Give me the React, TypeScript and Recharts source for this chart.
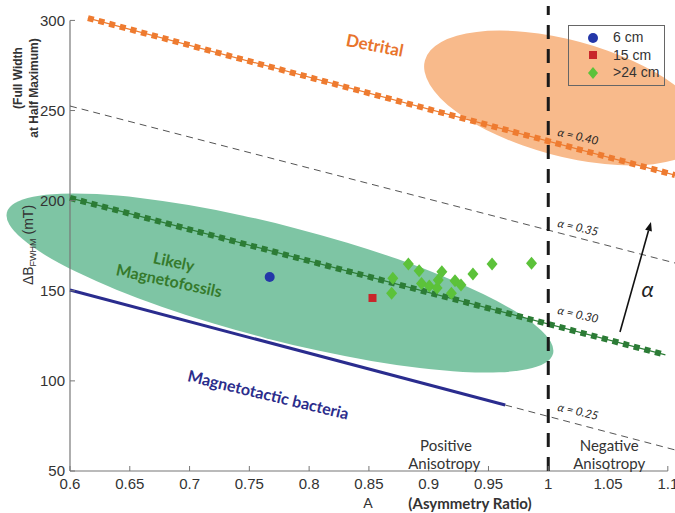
import React from "react";
import {
  ComposedChart,
  XAxis,
  YAxis,
  Line,
  Scatter,
  Legend,
  ReferenceLine,
  ReferenceArea,
  ReferenceDot,
  Label,
} from "recharts";

// axis ticks
const aTicks = [0.6, 0.65, 0.7, 0.75, 0.8, 0.85, 0.9, 0.95, 1, 1.05, 1.1];
const fwhmTicks = [50, 100, 150, 200, 250, 300];

// measured samples (A, ΔB_FWHM in mT)
const depthNames = ["6 cm", "15 cm", ">24 cm"];
const depth6cm = [{ a: 0.767, fwhm: 157.6 }];
const depth15cm = [{ a: 0.853, fwhm: 146.0 }];
const depth24cm = [
  { a: 0.869, fwhm: 148.6 },
  { a: 0.87, fwhm: 156.9 },
  { a: 0.883, fwhm: 164.9 },
  { a: 0.892, fwhm: 161.1 },
  { a: 0.894, fwhm: 154.1 },
  { a: 0.9005, fwhm: 152.6 },
  { a: 0.907, fwhm: 151.5 },
  { a: 0.908, fwhm: 156.0 },
  { a: 0.911, fwhm: 160.6 },
  { a: 0.919, fwhm: 148.6 },
  { a: 0.922, fwhm: 155.6 },
  { a: 0.927, fwhm: 153.2 },
  { a: 0.937, fwhm: 159.3 },
  { a: 0.953, fwhm: 164.8 },
  { a: 0.986, fwhm: 165.2 },
];

// constant-alpha guide lines
const alpha40 = [
  { a: 0.615, fwhm: 301.3 },
  { a: 1.106, fwhm: 214.2 },
];
const alpha35 = [
  { a: 0.6, fwhm: 252.5 },
  { a: 1.106, fwhm: 165.4 },
];
const alpha30 = [
  { a: 0.6, fwhm: 201.5 },
  { a: 1.098, fwhm: 114.4 },
];
const alpha25 = [
  { a: 0.6, fwhm: 150.4 },
  { a: 0.964, fwhm: 86.6 },
];
const alpha25Tail = [
  { a: 0.964, fwhm: 86.6 },
  { a: 1.106, fwhm: 61.7 },
];

// shaded zones: unrotated bounds in data units, tilt in degrees
const detritalZone = { a1: 0.8927, a2: 1.1353, f1: 224.8, f2: 289.1, tilt: 15 };
const fossilZone = { a1: 0.5397, a2: 1.0115, f1: 122.7, f2: 185.9, tilt: 14.5 };

// arrow showing increasing alpha
const alphaArrow = [
  { a: 1.06, fwhm: 127.1 },
  { a: 1.0859, fwhm: 188.2 },
];

const noteStyles: Record<string, any> = {
  detrital: { fill: "#E8742C", fontSize: 17, fontWeight: 700, rotate: 11 },
  fossil: { fill: "#357A2C", fontSize: 16, fontWeight: 700, rotate: 12 },
  bacteria: { fill: "#2B2D8C", fontSize: 16, fontWeight: 700, rotate: 13.5 },
  alpha: { fill: "#222", fontSize: 11.5, fontStyle: "italic", rotate: 13 },
  alphaBig: { fill: "#222", fontSize: 22, fontStyle: "italic", rotate: 0 },
  region: { fill: "#333", fontSize: 15, rotate: 0 },
};

const notes = [
  { a: 0.855, fwhm: 286.4, text: "Detrital", kind: "detrital" },
  { a: 0.687, fwhm: 166.5, text: "Likely", kind: "fossil" },
  { a: 0.683, fwhm: 156.0, text: "Magnetofossils", kind: "fossil" },
  { a: 0.766, fwhm: 92.7, text: "Magnetotactic bacteria", kind: "bacteria" },
  { a: 1.025, fwhm: 235.9, text: "α = 0.40", kind: "alpha" },
  { a: 1.025, fwhm: 185.4, text: "α = 0.35", kind: "alpha" },
  { a: 1.025, fwhm: 137.1, text: "α = 0.30", kind: "alpha" },
  { a: 1.025, fwhm: 83.3, text: "α = 0.25", kind: "alpha" },
  { a: 1.083, fwhm: 151.5, text: "α", kind: "alphaBig" },
  { a: 0.9145, fwhm: 64.4, text: "Positive", kind: "region" },
  { a: 0.913, fwhm: 54.4, text: "Anisotropy", kind: "region" },
  { a: 1.051, fwhm: 64.4, text: "Negative", kind: "region" },
  { a: 1.051, fwhm: 54.4, text: "Anisotropy", kind: "region" },
];

const TEXT_FONT = "Lato, 'Open Sans', sans-serif";
const TICK_FONT = "'Liberation Sans', Arial, sans-serif";

const fmtTick = (v: number) => String(Number(v.toFixed(2)));

const tiltedEllipse = (tilt: number, fill: string) => (props: any) => {
  const { x, y, width, height } = props;
  const cx = x + width / 2;
  const cy = y + height / 2;
  return (
    <ellipse
      cx={cx}
      cy={cy}
      rx={Math.abs(width) / 2}
      ry={Math.abs(height) / 2}
      fill={fill}
      transform={`rotate(${tilt} ${cx} ${cy})`}
    />
  );
};

const ArrowShape = (props: any) => {
  const { x1, y1, x2, y2 } = props;
  const ang = Math.atan2(y2 - y1, x2 - x1);
  const len = 9;
  const half = 3.5;
  const bx = x2 - len * Math.cos(ang);
  const by = y2 - len * Math.sin(ang);
  const p1 = `${bx - half * Math.sin(ang)},${by + half * Math.cos(ang)}`;
  const p2 = `${bx + half * Math.sin(ang)},${by - half * Math.cos(ang)}`;
  return (
    <g>
      <line x1={x1} y1={y1} x2={bx} y2={by} stroke="#111" strokeWidth={1.6} />
      <polygon points={`${x2},${y2} ${p1} ${p2}`} fill="#111" />
    </g>
  );
};

const noteShape = (text: string, kind: string) => (props: any) => {
  const { cx, cy } = props;
  const { rotate, ...style } = noteStyles[kind];
  return (
    <text
      x={cx}
      y={cy}
      textAnchor="middle"
      dominantBaseline="central"
      fontFamily={TEXT_FONT}
      transform={rotate ? `rotate(${rotate} ${cx} ${cy})` : undefined}
      {...style}
    >
      {text}
    </text>
  );
};

const CircleMark = ({ cx, cy, fill }: any) => <circle cx={cx} cy={cy} r={5} fill={fill} />;
const SquareMark = ({ cx, cy, fill }: any) => (
  <rect x={cx - 4} y={cy - 4} width={8} height={8} fill={fill} />
);
const DiamondMark = ({ cx, cy, fill }: any) => (
  <polygon
    points={`${cx},${cy - 6.5} ${cx + 5.5},${cy} ${cx},${cy + 6.5} ${cx - 5.5},${cy}`}
    fill={fill}
  />
);

const legendMarker = (type: string, color: string) => {
  if (type === "square") return <rect x={3} y={3} width={8} height={8} fill={color} />;
  if (type === "diamond") return <polygon points="7,1 12,7 7,13 2,7" fill={color} />;
  return <circle cx={7} cy={7} r={5} fill={color} />;
};

const LegendBox = ({ payload }: any) => {
  const items = (payload || [])
    .filter((p: any) => depthNames.includes(p.value))
    .sort((p: any, q: any) => depthNames.indexOf(p.value) - depthNames.indexOf(q.value));
  return (
    <div
      style={{
        border: "1px solid #666",
        padding: "3px 4px 3px 17px",
        fontFamily: TICK_FONT,
        fontSize: 14,
        color: "#333",
        lineHeight: "17.5px",
        boxSizing: "border-box",
        width: 97,
        whiteSpace: "nowrap",
      }}
    >
      {items.map((p: any) => (
        <div key={p.value} style={{ display: "flex", alignItems: "center" }}>
          <svg width={14} height={14}>
            {legendMarker(p.type, p.color)}
          </svg>
          <span style={{ marginLeft: 13 }}>{p.value}</span>
        </div>
      ))}
    </div>
  );
};

const YTitle = ({ viewBox }: any) => {
  const { x, y } = viewBox;
  return (
    <g fontFamily={TICK_FONT} fill="#333">
      <text
        x={x + 22}
        y={y + 72}
        textAnchor="middle"
        fontWeight={700}
        fontSize={12}
        transform={`rotate(-90 ${x + 22} ${y + 72})`}
      >
        (Full Width
      </text>
      <text
        x={x + 38}
        y={y + 82}
        textAnchor="middle"
        fontWeight={700}
        fontSize={12}
        transform={`rotate(-90 ${x + 38} ${y + 82})`}
      >
        at Half Maximum)
      </text>
      <text
        x={x + 33}
        y={y + 239}
        textAnchor="middle"
        fontSize={14}
        transform={`rotate(-90 ${x + 33} ${y + 239})`}
      >
        ΔB
        <tspan fontSize={9} dy={3}>
          FWHM
        </tspan>
        <tspan dy={-3}> (mT)</tspan>
      </text>
    </g>
  );
};

const XTitle = ({ viewBox }: any) => {
  const { x, y } = viewBox;
  return (
    <g fill="#333">
      <text x={x + 298} y={y + 37} textAnchor="middle" fontSize={14} fontFamily={TEXT_FONT}>
        A
      </text>
      <text
        x={x + 400}
        y={y + 38}
        textAnchor="middle"
        fontSize={15}
        fontWeight={700}
        fontFamily={TEXT_FONT}
      >
        (Asymmetry Ratio)
      </text>
    </g>
  );
};

export default function App() {
  return (
    <div style={{ width: 675, height: 513, background: "#fff" }}>
      <style>{"body{margin:0}"}</style>
      <ComposedChart width={675} height={513} margin={{ top: 6, right: 0, bottom: 0, left: 0 }}>
        <XAxis
          type="number"
          dataKey="a"
          domain={[0.6, 1.106]}
          ticks={aTicks}
          interval={0}
          height={42}
          axisLine={false}
          tickSize={-5}
          tickMargin={12}
          tickLine={{ stroke: "#777" }}
          tick={{ fontSize: 15, fill: "#333", fontFamily: TICK_FONT }}
          tickFormatter={fmtTick}
        >
          <Label content={XTitle} />
        </XAxis>
        <YAxis
          type="number"
          dataKey="fwhm"
          domain={[50, 308]}
          ticks={fwhmTicks}
          interval={0}
          width={70}
          axisLine={false}
          tickSize={-5}
          tickMargin={10}
          tickLine={{ stroke: "#777" }}
          tick={{ fontSize: 15, fill: "#333", fontFamily: TICK_FONT }}
        >
          <Label content={YTitle} />
        </YAxis>

        <ReferenceArea
          x1={detritalZone.a1}
          x2={detritalZone.a2}
          y1={detritalZone.f1}
          y2={detritalZone.f2}
          ifOverflow="visible"
          shape={tiltedEllipse(detritalZone.tilt, "#F8BA8B")}
        />
        <ReferenceArea
          x1={fossilZone.a1}
          x2={fossilZone.a2}
          y1={fossilZone.f1}
          y2={fossilZone.f2}
          ifOverflow="visible"
          shape={tiltedEllipse(fossilZone.tilt, "#7EC5A4")}
        />

        {/* axis lines */}
        <ReferenceLine
          segment={[
            { x: 0.6, y: 50 },
            { x: 0.6, y: 300 },
          ]}
          stroke="#777"
          strokeWidth={1.2}
        />
        <ReferenceLine
          segment={[
            { x: 0.6, y: 50 },
            { x: 1.1, y: 50 },
          ]}
          stroke="#777"
          strokeWidth={1.2}
        />

        <Line
          data={alpha35}
          dataKey="fwhm"
          stroke="#555"
          strokeWidth={1}
          strokeDasharray="7 5"
          dot={false}
          activeDot={false}
          legendType="none"
          isAnimationActive={false}
        />
        <Line
          data={alpha25Tail}
          dataKey="fwhm"
          stroke="#555"
          strokeWidth={1}
          strokeDasharray="7 5"
          dot={false}
          activeDot={false}
          legendType="none"
          isAnimationActive={false}
        />
        <Line
          data={alpha25}
          dataKey="fwhm"
          stroke="#2A2C8E"
          strokeWidth={3}
          dot={false}
          activeDot={false}
          legendType="none"
          isAnimationActive={false}
        />
        {[
          { data: alpha40, color: "#EE7B30" },
          { data: alpha30, color: "#2C7C36" },
        ].map((s, i) => (
          <React.Fragment key={i}>
            <Line
              data={s.data}
              dataKey="fwhm"
              stroke={s.color}
              strokeWidth={1.2}
              dot={false}
              activeDot={false}
              legendType="none"
              isAnimationActive={false}
            />
            <Line
              data={s.data}
              dataKey="fwhm"
              stroke={s.color}
              strokeWidth={6}
              strokeDasharray="6 5"
              dot={false}
              activeDot={false}
              legendType="none"
              isAnimationActive={false}
            />
          </React.Fragment>
        ))}

        <ReferenceLine x={1} stroke="#1a1a1a" strokeWidth={3} strokeDasharray="14 10" />
        <ReferenceLine
          segment={[
            { x: alphaArrow[0].a, y: alphaArrow[0].fwhm },
            { x: alphaArrow[1].a, y: alphaArrow[1].fwhm },
          ]}
          shape={ArrowShape}
        />

        <Scatter
          name="6 cm"
          data={depth6cm}
          fill="#2437A8"
          legendType="circle"
          shape={CircleMark}
          isAnimationActive={false}
        />
        <Scatter
          name="15 cm"
          data={depth15cm}
          fill="#C8262A"
          legendType="square"
          shape={SquareMark}
          isAnimationActive={false}
        />
        <Scatter
          name=">24 cm"
          data={depth24cm}
          fill="#5CC23A"
          legendType="diamond"
          shape={DiamondMark}
          isAnimationActive={false}
        />

        {notes.map((n, i) => (
          <ReferenceDot
            key={i}
            x={n.a}
            y={n.fwhm}
            r={0}
            ifOverflow="visible"
            shape={noteShape(n.text, n.kind)}
          />
        ))}

        <Legend
          layout="vertical"
          align="center"
          verticalAlign="middle"
          wrapperStyle={{ left: 568, top: 25, width: 97 }}
          content={LegendBox}
        />
      </ComposedChart>
    </div>
  );
}
